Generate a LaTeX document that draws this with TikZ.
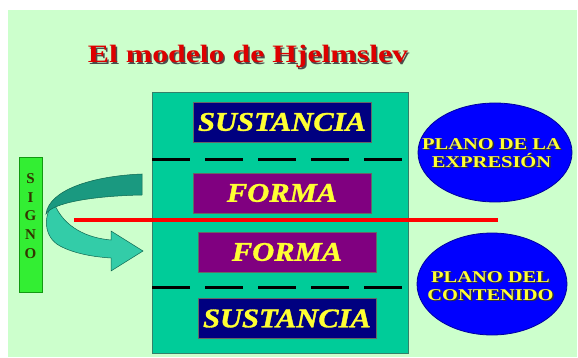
\documentclass[tikz,border=0pt]{standalone}
\usepackage{fontspec}
\usepackage{graphicx}
\setmainfont{Liberation Serif}[BoldFont={Liberation Serif Bold}, BoldItalicFont={Liberation Serif Bold Italic}]
\newfontfamily\panelfont{Liberation Serif Bold Italic}[FakeBold=1.2]
\usetikzlibrary{shapes.geometric}
\definecolor{bg}{HTML}{CCFFCC}
\definecolor{tealbox}{HTML}{00CC99}
\definecolor{tealedge}{HTML}{33806A}
\definecolor{navybox}{HTML}{000080}
\definecolor{purplebox}{HTML}{800080}
\definecolor{txtyellow}{HTML}{FFFF33}
\definecolor{ellblue}{HTML}{0000FF}
\definecolor{elledge}{HTML}{0000A0}
\definecolor{signogreen}{HTML}{33EE33}
\definecolor{signoedge}{HTML}{119911}
\definecolor{signotxt}{HTML}{333300}
\definecolor{titlered}{HTML}{DD0000}
\definecolor{pure red}{HTML}{FF0000}
\definecolor{ribbondark}{HTML}{1A9980}
\definecolor{ribbonlight}{HTML}{33CCA8}
\definecolor{ribbonedge}{HTML}{0E6650}
\newcommand{\boxtxt}[1]{\scalebox{1.13}[1]{\fontsize{27}{27}\panelfont #1}}
\newcommand{\shadowed}[3]{\makebox[0pt][l]{\hspace{1.2pt}\raisebox{-1.2pt}{\color{#2}#3}}{\color{#1}#3}}
\newcommand{\elltxt}[1]{\scalebox{1.24}[1]{\bfseries\shadowed{txtyellow}{black!80}{#1}}}
\begin{document}
\begin{tikzpicture}[x=1pt,y=-1pt,
  panel/.style={draw=black!60, line width=0.5pt, inner sep=0pt, minimum width=178pt, minimum height=40pt, text=txtyellow},
  plane/.style={ellipse, draw=elledge, line width=0.8pt, fill=ellblue, inner sep=0pt},
  planetext/.style={align=center, font=\fontsize{16.5}{18}\selectfont},
  dashline/.style={line width=3pt, dash pattern=on 38pt off 15pt},
  redline/.style={pure red, line width=3.5pt}]
\useasboundingbox (0,0) rectangle (578,358);
\fill[white] (0,0) rectangle (578,358);
\fill[bg] (8,10) rectangle (577,357);

% title
\node[anchor=base] (title) at (248,63) {\scalebox{1.27}[1]{\fontsize{25}{25}\selectfont\bfseries\shadowed{titlered}{black!70}{El modelo de Hjelmslev}}};

% main frame
\node[draw=tealedge, line width=0.8pt, fill=tealbox, minimum width=256pt, minimum height=261pt, inner sep=0pt] (frame) at (280,222.5) {};

% panels
\node[panel, fill=navybox] (sust1) at (282,122) {\boxtxt{SUSTANCIA}};
\node[panel, fill=purplebox] (forma1) at (282,193) {\boxtxt{FORMA}};
\node[panel, fill=purplebox] (forma2) at (287,252) {\boxtxt{FORMA}};
\node[panel, fill=navybox] (sust2) at (287,318.5) {\boxtxt{SUSTANCIA}};

% dashed separators
\coordinate (d1a) at (152,160);
\coordinate (d1b) at (402,160);
\coordinate (d2a) at (152,287);
\coordinate (d2b) at (402,287);
\draw[dashline] (d1a) -- (d1b);
\draw[dashline] (d2a) -- (d2b);

% ellipses
\node[plane, minimum width=154pt, minimum height=99pt] (expr) at (495,152.5) {};
\node[plane, minimum width=150pt, minimum height=102pt] (cont) at (492,284) {};
\node[planetext] (exprtxt) at (491.5,154) {\elltxt{PLANO DE LA}\\\elltxt{EXPRESIÓN}};
\node[planetext] (conttxt) at (490.5,287) {\elltxt{PLANO DEL}\\\elltxt{CONTENIDO}};

% red dividing line
\coordinate (ra) at (74,220);
\coordinate (rb) at (498,220);
\draw[redline] (ra) -- (rb);

% SIGNO box
\node[draw=signoedge, line width=0.8pt, fill=signogreen, minimum width=23pt, minimum height=135pt, inner sep=0pt] (signo) at (30.5,224.5) {};
\node[align=center, text=signotxt, font=\fontsize{15}{18.7}\selectfont\bfseries] (signotext) at (30.5,216) {S\\I\\G\\N\\O};

% curved ribbon arrow
\filldraw[fill=ribbonlight, draw=ribbonedge, line width=0.5pt]
  (54,203) .. controls (43,214) and (43,237) .. (60,246)
  .. controls (75,254) and (95,257) .. (111,258)
  -- (111,271) -- (143,251) -- (111,231) -- (111,240)
  .. controls (88,238) and (64,228) .. (54,203) -- cycle;
\filldraw[fill=ribbondark, draw=ribbonedge, line width=0.5pt]
  (142,174) .. controls (92,176) and (49,190) .. (46,214)
  .. controls (52,203) and (92,196) .. (142,195) -- cycle;
\end{tikzpicture}
\end{document}
